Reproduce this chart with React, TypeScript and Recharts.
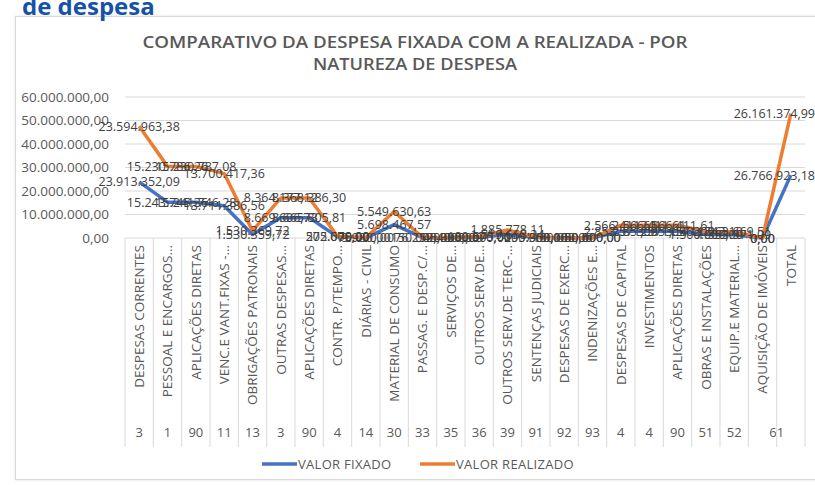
import React from 'react';
import { ComposedChart, Area, XAxis, YAxis, CartesianGrid } from 'recharts';

const categories: string[] = [
  'DESPESAS CORRENTES', 'PESSOAL E ENCARGOS…', 'APLICAÇÕES DIRETAS', 'VENC.E VANT.FIXAS -…',
  'OBRIGAÇÕES PATRONAIS', 'OUTRAS DESPESAS…', 'APLICAÇÕES DIRETAS', 'CONTR. P/TEMPO…',
  'DIÁRIAS - CIVIL', 'MATERIAL DE CONSUMO', 'PASSAG. E DESP.C/…', 'SERVIÇOS DE…',
  'OUTROS SERV.DE…', 'OUTROS SERV.DE TERC-…', 'SENTENÇAS JUDICIAIS', 'DESPESAS DE EXERC…',
  'INDENIZAÇÕES E…', 'DESPESAS DE CAPITAL', 'INVESTIMENTOS', 'APLICAÇÕES DIRETAS',
  'OBRAS E INSTALAÇÕES', 'EQUIP.E MATERIAL…', 'AQUISIÇÃO DE IMÓVEIS', 'TOTAL',
];

const codes: string[] = [
  '3', '1', '90', '11', '13', '3', '90', '4', '14', '30', '33', '35',
  '36', '39', '91', '92', '93', '4', '4', '90', '51', '52', '61', '',
];

const valorFixado: number[] = [
  23913352.09, 15243745.36, 15241746.28, 13711386.56, 1530359.72, 8669606.73,
  8665805.81, 502670.0, 75000.0, 5698467.57, 150000.0, 120000.0,
  300000.0, 1519668.24, 200000.0, 50000.0, 50000.0, 2853571.09,
  2853571.09, 2853571.09, 1500000.0, 1353571.09, 0.0, 26766923.18,
];

const valorRealizado: number[] = [
  23594963.38, 15230786.26, 15230787.08, 13700417.36, 1530369.72, 8364177.12,
  8368386.3, 275000.0, 9980.0, 5549630.63, 76259.4, 45300.0,
  180575.0, 1885778.11, 195363.16, 100000.0, 50500.0, 2566411.61,
  2566411.61, 2566411.61, 1302742.1, 1263669.51, 0.0, 26161374.99,
];

const yTicks: number[] = [0, 10000000, 20000000, 30000000, 40000000, 50000000, 60000000];

const data = categories.map((name, i) => ({
  key: i,
  name,
  code: codes[i],
  fixado: valorFixado[i],
  realizado: valorRealizado[i],
}));

const W = 815;
const H = 485;
const M_LEFT = 125;
const M_RIGHT = 10;
const M_TOP = 97;
const X_AXIS_H = 247;
const BAND = (W - M_LEFT - M_RIGHT) / categories.length;

const BLUE = '#4472C4';
const ORANGE = '#ED7D31';
const GRID = '#d9d9d9';
const TEXT = '#595959';
const FONT = '"Open Sans", "Liberation Sans", sans-serif';
const LABEL_SIZE = 12.5;

function fmt(v: number): string {
  const [i, d] = v.toFixed(2).split('.');
  return i.replace(/\B(?=(\d{3})+(?!\d))/g, '.') + ',' + d;
}

const TABLE_BOTTOM = 447;

function CatTick(props: any) {
  const { x, y, index } = props;
  const top = y;
  const left = x - BAND / 2;
  const right = x + BAND / 2;
  const last = index === categories.length - 1;
  const mergeWithNext = codes[index + 1] === '';
  return (
    <g>
      <line x1={left} x2={left} y1={top} y2={TABLE_BOTTOM} stroke={GRID} strokeWidth={1} />
      {last && (
        <line x1={right} x2={right} y1={top} y2={TABLE_BOTTOM} stroke={GRID} strokeWidth={1} />
      )}
      <text
        transform={`translate(${x},${top + 7}) rotate(-90)`}
        textAnchor="end"
        dy="0.36em"
        fontSize={13.5}
        fontFamily={FONT}
        fill={TEXT}
      >
        {categories[index]}
      </text>
      {codes[index] !== '' && (
        <text
          x={mergeWithNext ? right : x}
          y={432}
          textAnchor="middle"
          dy="0.36em"
          fontSize={13}
          fontFamily={FONT}
          fill={TEXT}
        >
          {codes[index]}
        </text>
      )}
    </g>
  );
}

function makeLabel(values: number[]) {
  return (props: any) => {
    const { x, y, index } = props;
    if (x == null || y == null) return null;
    const s = fmt(values[index]);
    const halfW = (s.length * 0.5 * LABEL_SIZE) / 2 + 4;
    const overflow = x + halfW > W;
    return (
      <text
        key={`l-${index}`}
        x={overflow ? W : x}
        y={y}
        dy="0.36em"
        textAnchor={overflow ? 'end' : 'middle'}
        fontSize={LABEL_SIZE}
        fontFamily={FONT}
        fill="#404040"
      >
        {s}
      </text>
    );
  };
}

export default function App() {
  return (
    <div style={{ position: 'absolute', left: 0, top: 0, width: W, height: H, background: '#fff', overflow: 'hidden' }}>
      <div
        style={{
          position: 'absolute',
          left: 15,
          top: 16,
          width: 830,
          height: 464,
          border: '1px solid #d9d9d9',
          boxShadow: '0 0 3px rgba(0,0,0,0.12)',
          boxSizing: 'border-box',
        }}
      />
      <svg width={W} height={H} style={{ position: 'absolute', left: 0, top: 0 }}>
        <text x={22} y={15} fontSize={24} fontWeight={700} fontFamily={FONT} fill="#1552a8">
          de despesa
        </text>
        <text
          x={415}
          y={48}
          textAnchor="middle"
          fontSize={17}
          fontWeight={600}
          fontFamily={FONT}
          fill={TEXT}
          textLength={545}
          lengthAdjust="spacingAndGlyphs"
        >
          COMPARATIVO DA DESPESA FIXADA COM A REALIZADA - POR
        </text>
        <text
          x={415}
          y={70}
          textAnchor="middle"
          fontSize={17}
          fontWeight={600}
          fontFamily={FONT}
          fill={TEXT}
          textLength={204}
          lengthAdjust="spacingAndGlyphs"
        >
          NATUREZA DE DESPESA
        </text>
        <line x1={262} x2={297} y1={464} y2={464} stroke={BLUE} strokeWidth={3.5} />
        <text x={298} y={464} dy="0.36em" fontSize={13} letterSpacing={0.3} fontFamily={FONT} fill={TEXT}>
          VALOR FIXADO
        </text>
        <line x1={420} x2={455} y1={464} y2={464} stroke={ORANGE} strokeWidth={3.5} />
        <text x={456} y={464} dy="0.36em" fontSize={13} letterSpacing={0.3} fontFamily={FONT} fill={TEXT}>
          VALOR REALIZADO
        </text>
      </svg>
      <div style={{ position: 'absolute', left: 0, top: 0 }}>
        <ComposedChart
          width={W}
          height={H}
          data={data}
          margin={{ top: M_TOP, right: M_RIGHT, bottom: 0, left: 0 }}
          style={{ overflow: 'visible' }}
        >
          <CartesianGrid vertical={false} stroke={GRID} strokeWidth={1} />
          <XAxis
            dataKey="key"
            type="category"
            interval={0}
            height={X_AXIS_H}
            padding={{ left: BAND / 2, right: BAND / 2 }}
            tickLine={false}
            axisLine={false}
            tickSize={0}
            tickMargin={0}
            tick={<CatTick />}
          />
          <YAxis
            width={M_LEFT}
            domain={[0, 60000000]}
            ticks={yTicks}
            interval={0}
            tickLine={false}
            axisLine={false}
            tickSize={0}
            tickMargin={16}
            tickFormatter={fmt}
            tick={{ fontSize: 13.5, fontFamily: FONT, fill: TEXT }}
          />
          <Area
            type="linear"
            dataKey="fixado"
            stackId="s"
            stroke={BLUE}
            strokeWidth={3.5}
            strokeLinejoin="round"
            fill="none"
            fillOpacity={0}
            dot={false}
            activeDot={false}
            isAnimationActive={false}
            label={makeLabel(valorFixado)}
          />
          <Area
            type="linear"
            dataKey="realizado"
            stackId="s"
            stroke={ORANGE}
            strokeWidth={3.5}
            strokeLinejoin="round"
            fill="none"
            fillOpacity={0}
            dot={false}
            activeDot={false}
            isAnimationActive={false}
            label={makeLabel(valorRealizado)}
          />
        </ComposedChart>
      </div>
    </div>
  );
}
